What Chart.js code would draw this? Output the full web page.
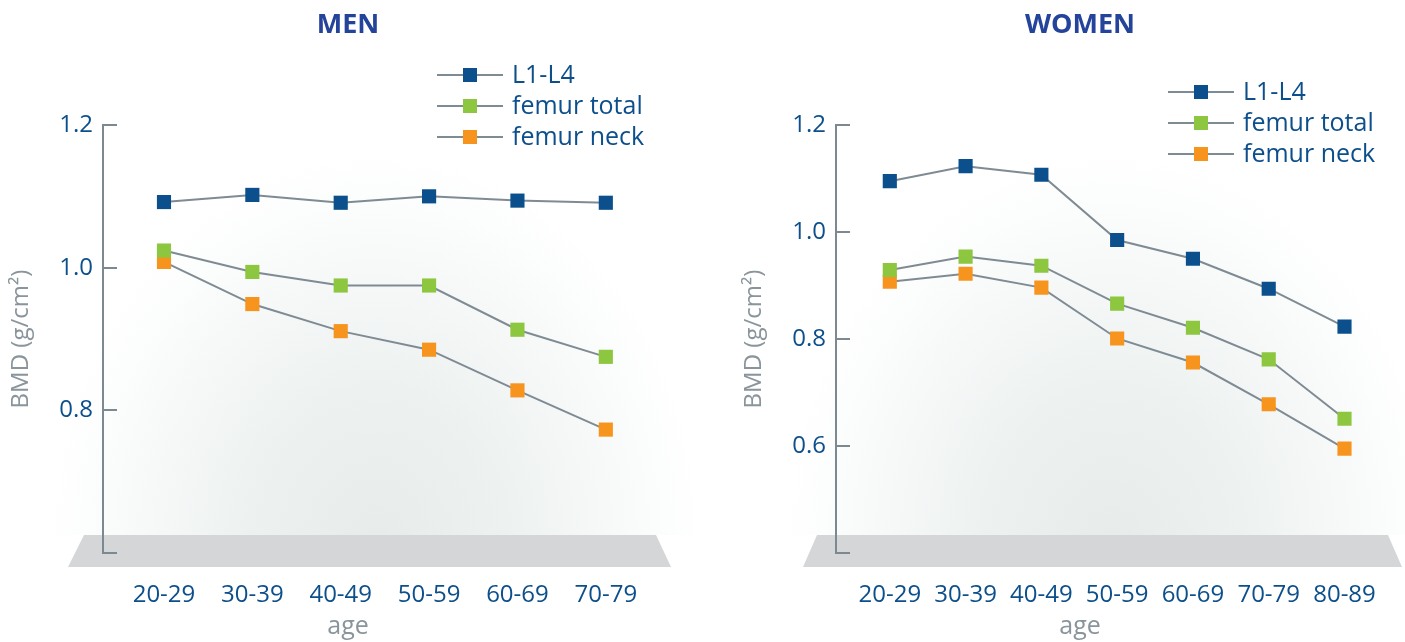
<!DOCTYPE html>
<html>
<head>
<meta charset="utf-8">
<title>BMD by age</title>
<script src="https://cdn.jsdelivr.net/npm/chart.js@4.4.1/dist/chart.umd.min.js"></script>
<style>
  html, body { margin: 0; padding: 0; background: #fff; overflow: hidden; }
  #wrap { position: relative; width: 1405px; height: 642px; }
  canvas { position: absolute; top: 0; }
  #chart-men { left: 0; }
  #chart-women { left: 702px; }
</style>
</head>
<body>
<div id="wrap">
  <canvas id="chart-men" width="702" height="642"></canvas>
  <canvas id="chart-women" width="703" height="642"></canvas>
</div>
<script>
const seriesNames = ["L1-L4", "femur total", "femur neck"];
const seriesColors = ["#0b4f8c", "#8dc63f", "#f7941d"];

const menAges = ["20-29", "30-39", "40-49", "50-59", "60-69", "70-79"];
const menL1L4 = [1.092, 1.102, 1.091, 1.100, 1.094, 1.091];
const menFemurTotal = [1.024, 0.994, 0.975, 0.975, 0.913, 0.875];
const menFemurNeck = [1.008, 0.949, 0.911, 0.885, 0.828, 0.773];
const menYTicks = [0.6, 0.8, 1.0, 1.2];

const womenAges = ["20-29", "30-39", "40-49", "50-59", "60-69", "70-79", "80-89"];
const womenL1L4 = [1.095, 1.123, 1.107, 0.985, 0.950, 0.894, 0.823];
const womenFemurTotal = [0.929, 0.954, 0.937, 0.866, 0.821, 0.762, 0.651];
const womenFemurNeck = [0.907, 0.922, 0.896, 0.801, 0.756, 0.678, 0.595];
const womenYTicks = [0.4, 0.6, 0.8, 1.0, 1.2];

const lineGray = "#7f8b93";
const axisGray = "#7d8991";
const tickBlue = "#0d4f8b";
const labelGray = "#8a959b";
const titleBlue = "#24439a";

Chart.defaults.font.family = "'Open Sans', 'Noto Sans', sans-serif";

// background glow, floor, inward ticks, legend and headings
const decorPlugin = {
    id: "decor",
    beforeDraw(chart, args, opts) {
        const ctx = chart.ctx;
        const area = chart.chartArea;
        const cx = (area.left + area.right) / 2;

        ctx.save();
        ctx.beginPath();
        ctx.rect(0, 0, chart.width, opts.floor[0][1]);
        ctx.clip();
        ctx.translate(cx, opts.floor[0][1] + 10);
        ctx.scale(1, 1.2);
        const glow = ctx.createRadialGradient(0, 0, 0, 0, 0, 325);
        glow.addColorStop(0, "rgba(231,236,235,1)");
        glow.addColorStop(0.4, "rgba(237,241,240,1)");
        glow.addColorStop(0.75, "rgba(248,250,250,1)");
        glow.addColorStop(1, "rgba(255,255,255,1)");
        ctx.fillStyle = glow;
        ctx.fillRect(-420, -420, 840, 420);
        ctx.restore();

        ctx.save();
        ctx.beginPath();
        opts.floor.forEach((p, i) => i ? ctx.lineTo(p[0], p[1]) : ctx.moveTo(p[0], p[1]));
        ctx.closePath();
        ctx.fillStyle = "#d4d6d8";
        ctx.fill();
        ctx.restore();
    },
    afterDraw(chart, args, opts) {
        const ctx = chart.ctx;
        const yScale = chart.scales.y;
        const left = chart.chartArea.left;

        ctx.save();
        ctx.strokeStyle = axisGray;
        ctx.lineWidth = 2;
        yScale.ticks.forEach(t => {
            const py = Math.round(yScale.getPixelForValue(t.value));
            ctx.beginPath();
            ctx.moveTo(left, py);
            ctx.lineTo(left + 14, py);
            ctx.stroke();
        });

        // legend
        ctx.font = "25px 'Open Sans', sans-serif";
        ctx.textBaseline = "middle";
        chart.data.datasets.forEach((ds, i) => {
            const y = opts.legendY + i * 31;
            const x = opts.legendX;
            ctx.strokeStyle = lineGray;
            ctx.lineWidth = 2;
            ctx.beginPath();
            ctx.moveTo(x - 33, y);
            ctx.lineTo(x + 33, y);
            ctx.stroke();
            ctx.fillStyle = ds.pointBackgroundColor;
            ctx.fillRect(x - 7, y - 7, 14, 14);
            ctx.fillStyle = tickBlue;
            ctx.textAlign = "left";
            ctx.fillText(ds.label, x + 42, y + 1);
        });

        // heading and x axis caption
        ctx.textAlign = "center";
        ctx.fillStyle = titleBlue;
        ctx.font = "bold 27px 'Open Sans', sans-serif";
        ctx.fillText(opts.title, opts.centerX, 25);
        ctx.fillStyle = labelGray;
        ctx.font = "25px 'Open Sans', sans-serif";
        ctx.fillText("age", opts.centerX, 627);
        ctx.restore();
    }
};

function buildChart(canvasId, ages, values, yTicks, cfg) {
    const datasets = values.map((vals, i) => ({
        label: seriesNames[i],
        data: vals.map((v, k) => ({ x: k, y: v })),
        borderColor: lineGray,
        borderWidth: 2,
        pointStyle: "rect",
        pointRadius: 10,
        pointBorderWidth: 0,
        pointBackgroundColor: seriesColors[i],
        pointBorderColor: seriesColors[i],
        tension: 0
    }));

    return new Chart(document.getElementById(canvasId).getContext("2d"), {
        type: "line",
        data: { datasets: datasets },
        plugins: [decorPlugin],
        options: {
            responsive: false,
            animation: false,
            layout: { padding: { top: 125, right: cfg.padRight, left: 0, bottom: 0 } },
            plugins: {
                legend: { display: false },
                tooltip: { enabled: false },
                decor: cfg.decor
            },
            scales: {
                x: {
                    type: "linear",
                    min: cfg.xMin,
                    max: cfg.xMax,
                    afterFit: scale => { scale.height = 89; },
                    afterBuildTicks: scale => { scale.ticks = ages.map((a, k) => ({ value: k })); },
                    grid: { display: false, drawTicks: false },
                    border: { display: false },
                    ticks: {
                        autoSkip: false,
                        maxRotation: 0,
                        padding: 28,
                        color: tickBlue,
                        font: { size: 24 },
                        callback: v => ages[v]
                    }
                },
                y: {
                    min: yTicks[0],
                    max: yTicks[yTicks.length - 1],
                    afterFit: scale => { scale.width = cfg.axisX; },
                    afterBuildTicks: scale => { scale.ticks = yTicks.map(v => ({ value: v })); },
                    grid: { display: false, drawTicks: false },
                    border: { display: true, color: axisGray, width: 2 },
                    ticks: {
                        padding: 10,
                        color: tickBlue,
                        font: { size: 24 },
                        callback: (v, idx) => idx === 0 ? "" : v.toFixed(1)
                    },
                    title: {
                        display: true,
                        text: "BMD (g/cm²)",
                        color: labelGray,
                        font: { size: 24 },
                        padding: { top: cfg.yTitlePad, bottom: 0 }
                    }
                }
            }
        }
    });
}

buildChart("chart-men", menAges, [menL1L4, menFemurTotal, menFemurNeck], menYTicks, {
    padRight: 52, xMin: -0.69, xMax: 5.5, axisX: 103, yTitlePad: 7,
    decor: {
        title: "MEN", centerX: 348, legendX: 470, legendY: 75,
        floor: [[84, 535], [656, 535], [671, 567], [68, 567]]
    }
});

buildChart("chart-women", womenAges, [womenL1L4, womenFemurTotal, womenFemurNeck], womenYTicks, {
    padRight: 15, xMin: -0.71, xMax: 6.58, axisX: 134, yTitlePad: 38,
    decor: {
        title: "WOMEN", centerX: 378, legendX: 499, legendY: 92,
        floor: [[115, 535], [686, 535], [700, 567], [101, 567]]
    }
});
</script>
</body>
</html>
